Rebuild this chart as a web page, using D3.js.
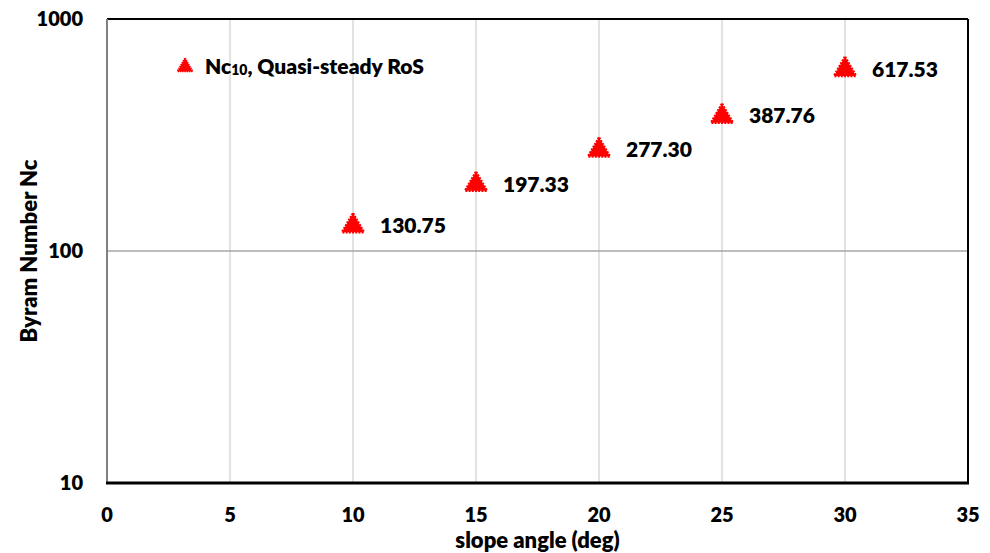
<!DOCTYPE html>
<html>
<head>
<meta charset="utf-8">
<script src="https://cdn.jsdelivr.net/npm/d3@7"></script>
<style>
  body { margin: 0; background: #fff; }
  svg text { font-family: Lato, "Open Sans", sans-serif; font-weight: 800; fill: #000; }
</style>
</head>
<body>
<svg id="chart" width="990" height="553"></svg>
<script>
// Byram number vs slope angle, quasi-steady rate of spread
const slopeAngles = [10, 15, 20, 25, 30];
const byramNc = [130.75, 197.33, 277.30, 387.76, 617.53];
const xTicks = [0, 5, 10, 15, 20, 25, 30, 35];
const yTicks = [10, 100, 1000];
const seriesName = "Quasi-steady RoS";

const svg = d3.select("#chart");
const m = { left: 107, right: 968, top: 19, bottom: 483 };

const x = d3.scaleLinear().domain([0, 35]).range([m.left, m.right]);
const y = d3.scaleLog().domain([10, 1000]).range([m.bottom, m.top]);

// vertical gridlines
svg.append("g").selectAll("line").data(xTicks.filter(t => t > 0 && t < 35)).join("line")
  .attr("x1", d => x(d)).attr("x2", d => x(d))
  .attr("y1", m.top).attr("y2", m.bottom)
  .attr("stroke", "#d9d9d9").attr("stroke-width", 1.5);

// horizontal gridline(s)
svg.append("g").selectAll("line").data(yTicks.filter(t => t > 10 && t < 1000)).join("line")
  .attr("x1", m.left).attr("x2", m.right)
  .attr("y1", d => y(d)).attr("y2", d => y(d))
  .attr("stroke", "#a6a6a6").attr("stroke-width", 1.5);

// frame
svg.append("line").attr("x1", m.left).attr("x2", m.right).attr("y1", m.top).attr("y2", m.top)
  .attr("stroke", "#000").attr("stroke-width", 2);
svg.append("line").attr("x1", m.right).attr("x2", m.right).attr("y1", m.top).attr("y2", m.bottom)
  .attr("stroke", "#000").attr("stroke-width", 2);
svg.append("line").attr("x1", m.left).attr("x2", m.left).attr("y1", m.top).attr("y2", m.bottom)
  .attr("stroke", "#808080").attr("stroke-width", 2);
svg.append("line").attr("x1", m.left - 1).attr("x2", m.right + 1).attr("y1", m.bottom).attr("y2", m.bottom)
  .attr("stroke", "#000").attr("stroke-width", 3);

// x tick labels
svg.append("g").selectAll("text").data(xTicks).join("text")
  .attr("x", d => x(d)).attr("y", 522)
  .attr("text-anchor", "middle").attr("font-size", 20)
  .text(d => d);

// y tick labels
svg.append("g").selectAll("text").data(yTicks).join("text")
  .attr("x", 83).attr("y", d => y(d) + 7)
  .attr("text-anchor", "end").attr("font-size", 20)
  .text(d => d);

// axis titles
svg.append("text").attr("x", (m.left + m.right) / 2).attr("y", 548)
  .attr("text-anchor", "middle").attr("font-size", 22).text("slope angle (deg)");
svg.append("text").attr("transform", `translate(37,${(m.top + m.bottom) / 2}) rotate(-90)`)
  .attr("text-anchor", "middle").attr("font-size", 22).text("Byram Number Nc");

// triangle marker
const tri = d3.symbol().type(d3.symbolTriangle).size(210);
function marker(sel) {
  sel.attr("d", tri)
    .attr("fill", "#ff0000")
    .attr("stroke", "#ff0000")
    .attr("stroke-width", 2.5)
    .attr("stroke-dasharray", "2,1.2")
    .attr("stroke-linejoin", "round");
}

const pts = slopeAngles.map((a, i) => ({ a, v: byramNc[i] }));
svg.append("g").selectAll("path").data(pts).join("path")
  .attr("transform", d => `translate(${x(d.a)},${y(d.v) + 2})`)
  .call(marker);

// data labels
svg.append("g").selectAll("text").data(pts).join("text")
  .attr("x", d => x(d.a) + 27).attr("y", d => y(d.v) + 9)
  .attr("font-size", 21)
  .text(d => d.v.toFixed(2));

// legend
svg.append("path").attr("transform", "translate(185,67) scale(0.7)").call(marker);
const lg = svg.append("text").attr("x", 205).attr("y", 74).attr("font-size", 21);
lg.append("tspan").text("Nc");
lg.append("tspan").attr("font-size", 14).attr("dy", 1).text("10");
lg.append("tspan").attr("dy", -1).text(", " + seriesName);
</script>
</body>
</html>
